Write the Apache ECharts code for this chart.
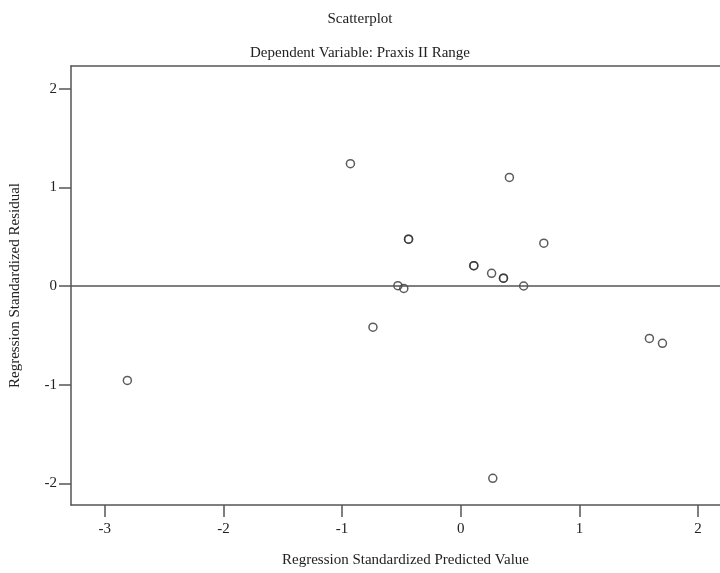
<!DOCTYPE html>
<html>
<head>
<meta charset="utf-8">
<script src="https://cdn.jsdelivr.net/npm/echarts@6/dist/echarts.min.js"></script>
<style>html,body{margin:0;padding:0;background:#fff}#c{width:720px;height:573px}</style>
</head>
<body>
<div id="c"></div>
<script>
var titleText = "Scatterplot";
var subtitleText = "Dependent Variable: Praxis II Range";
var xName = "Regression Standardized Predicted Value";
var yName = "Regression Standardized Residual";
var predicted = [-0.93, 0.41, -0.44, -0.44, 0.70, 0.11, 0.11, 0.26, 0.36, 0.36, 0.53, -0.53, -0.48, -0.74, 1.59, 1.70, -2.81, 0.27];
var residual  = [1.24, 1.10, 0.474, 0.474, 0.434, 0.206, 0.206, 0.129, 0.079, 0.079, 0.0, 0.003, -0.025, -0.417, -0.531, -0.581, -0.957, -1.95];
var xTicks = [-3, -2, -1, 0, 1, 2];
var yTicks = [-2, -1, 0, 1, 2];

var pts = predicted.map(function (x, i) { return [x, residual[i]]; });
var font = "'Liberation Serif', 'Times New Roman', serif";
var xMin = -3.285, xMax = 2.185;
var chart = echarts.init(document.getElementById('c'));
chart.setOption({
  animation: false,
  backgroundColor: '#fff',
  title: [
    { text: titleText, left: 'center', top: 7, textStyle: { fontFamily: font, fontSize: 15, fontWeight: 'normal', color: '#222' } },
    { text: subtitleText, left: 'center', top: 41, textStyle: { fontFamily: font, fontSize: 15, fontWeight: 'normal', color: '#222' } }
  ],
  grid: { left: 68, right: 0, top: 66, bottom: 64, show: false },
  xAxis: [{
    type: 'value', min: xMin, max: xMax, interval: 1,
    name: xName, nameLocation: 'middle', nameGap: 48,
    nameTextStyle: { fontFamily: font, fontSize: 15, color: '#222', padding: [0, 0, 0, 20] },
    axisLine: { show: true, onZero: false, lineStyle: { color: '#555', width: 1.5 } },
    axisTick: { show: true, length: 12, lineStyle: { color: '#555', width: 1.5 }, customValues: xTicks },
    axisLabel: { fontFamily: font, fontSize: 15, color: '#222', margin: 17, customValues: xTicks },
    splitLine: { show: false }
  }, {
    type: 'value', position: 'top', min: xMin, max: xMax,
    axisLine: { show: true, onZero: false, lineStyle: { color: '#555', width: 1.5 } },
    axisTick: { show: false }, axisLabel: { show: false }, splitLine: { show: false }
  }],
  yAxis: {
    type: 'value', min: -2.22, max: 2.23,
    name: yName, nameLocation: 'middle', nameGap: 48,
    nameTextStyle: { fontFamily: font, fontSize: 15, color: '#222' },
    axisLine: { show: true, onZero: false, lineStyle: { color: '#555', width: 1.5 } },
    axisTick: { show: true, length: 12, lineStyle: { color: '#555', width: 1.5 }, customValues: yTicks },
    axisLabel: { fontFamily: font, fontSize: 15, color: '#222', margin: 14, customValues: yTicks },
    splitLine: { show: false }
  },
  series: [{
    type: 'scatter',
    data: pts,
    symbol: 'circle',
    symbolSize: 8,
    itemStyle: { color: 'rgba(255,255,255,0)', borderColor: '#333', borderWidth: 1.5 },
    markLine: {
      silent: true, symbol: 'none', label: { show: false },
      lineStyle: { color: '#555', width: 1.5, type: 'solid' },
      data: [{ yAxis: 0 }]
    }
  }]
});
</script>
</body>
</html>
